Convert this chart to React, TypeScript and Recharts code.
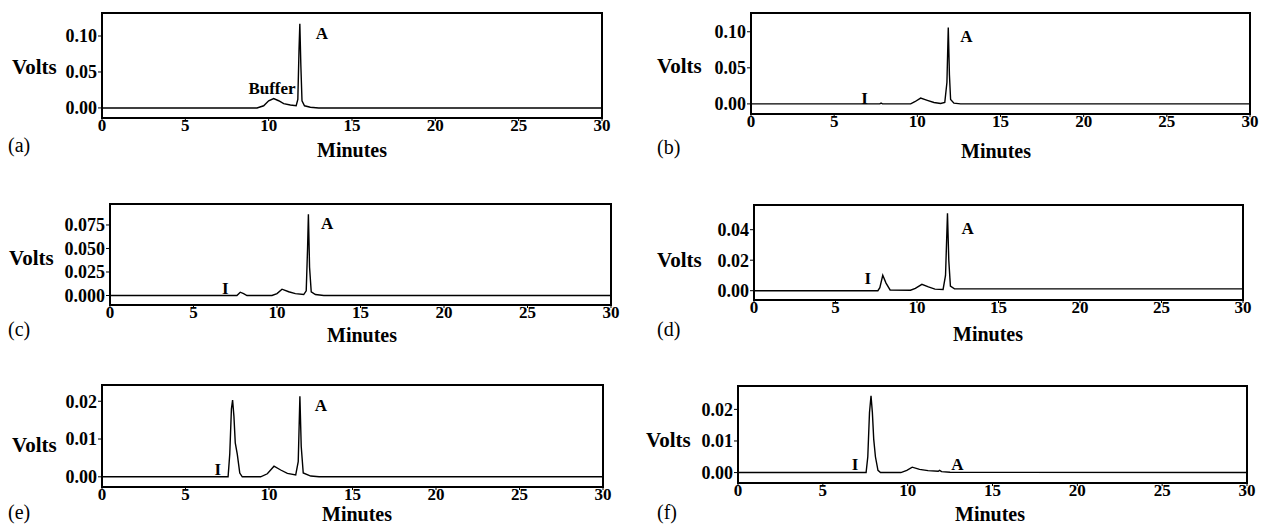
import { LineChart, Line, XAxis, YAxis, ReferenceArea, ReferenceDot } from "recharts";

type Pt = [number, number];

const serif = "'Liberation Serif', 'Times New Roman', serif";

// shared x axis ticks (minutes)
const minuteTicks = [0, 5, 10, 15, 20, 25, 30];

// chromatogram traces, [minutes, volts]
const traceA: Pt[] = [
  [0, 0], [9.3, 0], [9.7, 0.003], [10.0, 0.01], [10.3, 0.013], [10.6, 0.01], [10.9, 0.006],
  [11.3, 0.004], [11.65, 0.003], [11.75, 0.012], [11.82, 0.08], [11.87, 0.117], [11.93, 0.06],
  [12.0, 0.01], [12.15, 0.003], [12.5, 0.001], [13.0, 0], [30, 0],
];
const traceB: Pt[] = [
  [0, 0], [7.75, 0], [7.82, 0.0012], [7.9, 0], [9.6, 0], [9.85, 0.003], [10.2, 0.008],
  [10.6, 0.005], [11.0, 0.002], [11.4, 0.0005], [11.65, 0.002], [11.78, 0.03], [11.86, 0.106],
  [11.93, 0.04], [12.0, 0.006], [12.2, 0.001], [12.6, 0], [30, 0],
];
const traceC: Pt[] = [
  [0, 0], [7.6, 0], [7.8, 0.0035], [8.0, 0.002], [8.2, 0], [9.7, 0], [10.0, 0.002], [10.3, 0.0067],
  [10.7, 0.004], [11.1, 0.002], [11.6, 0.001], [11.75, 0.005], [11.83, 0.05], [11.88, 0.0865],
  [11.95, 0.03], [12.05, 0.004], [12.3, 0.001], [12.8, 0], [30, 0],
];
const traceD: Pt[] = [
  [0, 0], [7.6, 0], [7.72, 0.002], [7.9, 0.0101], [8.1, 0.005], [8.35, 0.0005], [9.6, 0.0003],
  [9.9, 0.0015], [10.3, 0.0042], [10.7, 0.0025], [11.1, 0.001], [11.6, 0.0008], [11.75, 0.01],
  [11.87, 0.0508], [11.95, 0.02], [12.05, 0.003], [12.3, 0.0012], [30, 0.0012],
];
const traceE: Pt[] = [
  [0, 0], [7.55, 0], [7.65, 0.006], [7.75, 0.018], [7.82, 0.0203], [7.9, 0.016], [7.98, 0.009],
  [8.1, 0.006], [8.25, 0.001], [8.4, 0], [9.5, 0], [9.9, 0.0008], [10.3, 0.0028], [10.7, 0.0018],
  [11.1, 0.0009], [11.6, 0.0005], [11.75, 0.004], [11.85, 0.0213], [11.93, 0.008], [12.05, 0.001],
  [12.5, 0.0002], [13, 0], [30, 0],
];
const traceF: Pt[] = [
  [0, 0], [7.55, 0], [7.65, 0.005], [7.75, 0.019], [7.84, 0.0243], [7.92, 0.019], [8.0, 0.0105],
  [8.1, 0.005], [8.25, 0.0007], [8.4, 0], [9.6, 0], [9.95, 0.0007], [10.27, 0.0017], [10.7, 0.001],
  [11.2, 0.0006], [11.8, 0.0004], [11.88, 0.0007], [12.0, 0.0003], [12.5, 0.0001], [30, 0],
];

// y axis ticks per panel
const voltTicksA = [0, 0.05, 0.1];
const voltTicksB = [0, 0.05, 0.1];
const voltTicksC = [0, 0.025, 0.05, 0.075];
const voltTicksD = [0, 0.02, 0.04];
const voltTicksE = [0, 0.01, 0.02];
const voltTicksF = [0, 0.01, 0.02];

// peak annotations
const notesA = [{ x: 13.2, y: 0.104, text: "A" }, { x: 10.2, y: 0.0274, text: "Buffer" }];
const notesB = [{ x: 12.95, y: 0.094, text: "A" }, { x: 6.83, y: 0.008, text: "I" }];
const notesC = [{ x: 13.0, y: 0.077, text: "A" }, { x: 6.9, y: 0.0078, text: "I" }];
const notesD = [{ x: 13.1, y: 0.041, text: "A" }, { x: 6.98, y: 0.0081, text: "I" }];
const notesE = [{ x: 13.1, y: 0.019, text: "A" }, { x: 6.93, y: 0.002, text: "I" }];
const notesF = [{ x: 12.93, y: 0.0027, text: "A" }, { x: 6.9, y: 0.0027, text: "I" }];

const panels = [
  { tag: "(a)", trace: traceA, ticks: voltTicksA, digits: 2, domain: [-0.014, 0.132], notes: notesA,
    box: { l: 102, r: 602, t: 13, b: 118 }, volts: [12, 67], minutes: [352, 150], letter: [8, 145] },
  { tag: "(b)", trace: traceB, ticks: voltTicksB, digits: 2, domain: [-0.014, 0.126], notes: notesB,
    box: { l: 751, r: 1250, t: 13, b: 114 }, volts: [657, 66], minutes: [996, 151], letter: [657, 147] },
  { tag: "(c)", trace: traceC, ticks: voltTicksC, digits: 3, domain: [-0.0101, 0.0973], notes: notesC,
    box: { l: 110, r: 611, t: 204, b: 305 }, volts: [9, 258], minutes: [362, 335], letter: [8, 329] },
  { tag: "(d)", trace: traceD, ticks: voltTicksD, digits: 2, domain: [-0.0061, 0.0562], notes: notesD,
    box: { l: 754, r: 1243, t: 205, b: 300 }, volts: [657, 260], minutes: [988, 334], letter: [657, 329] },
  { tag: "(e)", trace: traceE, ticks: voltTicksE, digits: 2, domain: [-0.0027, 0.0243], notes: notesE,
    box: { l: 102, r: 603, t: 385, b: 487 }, volts: [12, 445], minutes: [357, 514], letter: [8, 512] },
  { tag: "(f)", trace: traceF, ticks: voltTicksF, digits: 2, domain: [-0.0033, 0.0274], notes: notesF,
    box: { l: 738, r: 1247, t: 386, b: 483 }, volts: [646, 440], minutes: [990, 514], letter: [657, 512] },
];

const tickStyle = { fill: "#000", fontSize: 18, fontWeight: "bold", fontFamily: serif };
const xTickStyle = { ...tickStyle, fontSize: 17 };

function Panel({ p }: { p: (typeof panels)[number] }) {
  const YW = 62, MT = 10, MR = 15, XH = 22;
  const w = YW + (p.box.r - p.box.l) + MR;
  const h = MT + (p.box.b - p.box.t) + XH;
  const data = p.trace.map(([t, v]) => ({ t, v }));
  return (
    <>
      <div style={{ position: "absolute", left: p.box.l - YW, top: p.box.t - MT }}>
        <LineChart width={w} height={h} data={data} margin={{ top: MT, right: MR, left: 0, bottom: 0 }}>
          <XAxis
            dataKey="t"
            type="number"
            domain={[0, 30]}
            ticks={minuteTicks}
            interval={0}
            allowDataOverflow
            height={XH}
            tick={xTickStyle}
            tickSize={3}
            tickMargin={-2}
            tickLine={{ stroke: "#000" }}
            axisLine={{ stroke: "#000", strokeWidth: 2 }}
          />
          <YAxis
            type="number"
            domain={p.domain}
            ticks={p.ticks}
            interval={0}
            allowDataOverflow
            width={YW}
            tick={tickStyle}
            tickSize={4}
            tickMargin={1}
            tickFormatter={(v: number) => v.toFixed(p.digits)}
            tickLine={{ stroke: "#000" }}
            axisLine={{ stroke: "#000", strokeWidth: 2 }}
          />
          <ReferenceArea
            x1={0}
            x2={30}
            y1={p.domain[0]}
            y2={p.domain[1]}
            fill="none"
            stroke="#000"
            strokeWidth={2}
            ifOverflow="visible"
          />
          <Line dataKey="v" type="linear" stroke="#000" strokeWidth={1.4} dot={false} isAnimationActive={false} />
          {p.notes.map((n) => (
            <ReferenceDot
              key={n.text}
              x={n.x}
              y={n.y}
              r={0}
              fill="none"
              stroke="none"
              label={{ value: n.text, position: "center", fill: "#000", fontSize: 17, fontWeight: "bold", fontFamily: serif }}
            />
          ))}
        </LineChart>
      </div>
      <div style={{ ...txt, left: p.volts[0], top: p.volts[1], fontSize: 21, fontWeight: "bold", transform: "translateY(-50%)" }}>
        Volts
      </div>
      <div style={{ ...txt, left: p.minutes[0], top: p.minutes[1], fontSize: 20, fontWeight: "bold", transform: "translate(-50%, -50%)" }}>
        Minutes
      </div>
      <div style={{ ...txt, left: p.letter[0], top: p.letter[1], fontSize: 20, transform: "translateY(-50%)" }}>
        {p.tag}
      </div>
    </>
  );
}

const txt: React.CSSProperties = {
  position: "absolute",
  fontFamily: serif,
  lineHeight: 0.8,
  color: "#000",
  whiteSpace: "nowrap",
};

export default function App() {
  return (
    <div style={{ position: "absolute", left: 0, top: 0, width: 1262, height: 526, background: "#fff", overflow: "hidden" }}>
      {panels.map((p) => (
        <Panel key={p.tag} p={p} />
      ))}
    </div>
  );
}
